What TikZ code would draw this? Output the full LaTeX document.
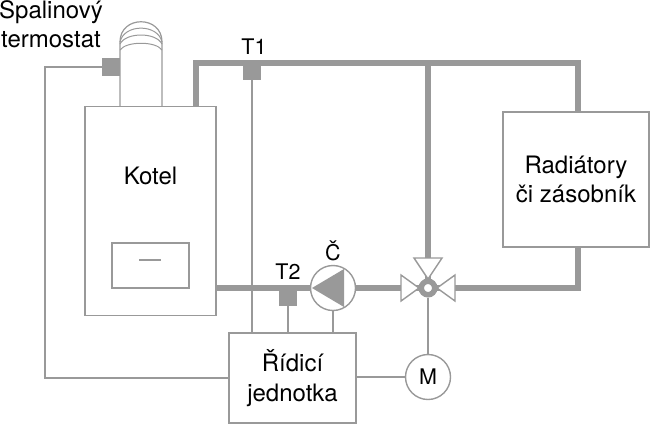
\documentclass[tikz,border=0pt]{standalone}
\usepackage{fontspec}
\setmainfont{TeX Gyre Heros}
\usetikzlibrary{calc}
\definecolor{pipegray}{gray}{0.6}
\newcommand{\bigtext}{\fontsize{24}{29.5}\selectfont}
\tikzset{
  wire/.style={draw=pipegray,line width=1.2pt},
  pipe/.style={draw=pipegray,line width=6pt},
  unitbox/.style={draw=pipegray,line width=1.6pt,fill=white,inner sep=0pt,align=center,font=\bigtext},
  sensorbox/.style={fill=pipegray,minimum size=18pt,inner sep=0pt},
  roundbox/.style={circle,draw=pipegray,line width=1.4pt,fill=white,inner sep=0pt,minimum size=45pt},
  valvetip/.style={draw=pipegray,line width=1.4pt,fill=white,line join=miter},
  caption/.style={inner sep=0pt,font=\bigtext,align=center},
  smallcaption/.style={inner sep=0pt,font=\fontsize{21.5}{24}\selectfont}
}
\begin{document}
\begin{tikzpicture}[x=1pt,y=-1pt]
          \useasboundingbox (0,0) rectangle (650,424);
          % pipes
          \coordinate (kotelout) at (196,107);
          \coordinate (corner) at (196,63);
          \coordinate (top) at (428,63);
          \coordinate (topright) at (578,63);
          \coordinate (radiatorin) at (578,112);
          \coordinate (radiatorout) at (578,247);
          \coordinate (lowright) at (578,288);
          \coordinate (kotelret) at (216,288);
          \coordinate (valve) at (428,288);
          \draw[pipe] (kotelout) -- (corner) -- (topright) -- (radiatorin);
          \draw[pipe] (top) -- (valve);
          \draw[pipe] (radiatorout) -- (lowright) -- (valve);
          \draw[pipe] (kotelret) -- (valve);
          % flue
          \coordinate (flueleft) at (120,107);
          \coordinate (flueright) at (162,107);
          \draw[wire] (flueleft) -- (120,42) .. controls (120,15) and (162,15) .. (162,42) -- (flueright);
          \draw[wire,line width=1pt] (120,42) .. controls (124,23.5) and (158,23.5) .. (162,42);
          \draw[wire,line width=1pt] (120,44) .. controls (126,32) and (156,32) .. (162,44);
          \draw[wire,line width=1pt] (120,50) .. controls (126,41) and (156,41) .. (162,50);
          % units
          \node[unitbox,minimum width=131pt,minimum height=209pt] (kotel) at (150.5,211) {};
          \node[caption] (kotellabel) at (150.5,176) {Kotel};
          \node[unitbox,minimum width=77pt,minimum height=45pt] (panel) at (150.5,265.5) {};
          \draw[wire] (139,260) -- (161,260);
          \node[unitbox,minimum width=146pt,minimum height=135pt] (radiator) at (576,179.5) {Radiátory\\či zásobník};
          \node[unitbox,minimum width=127pt,minimum height=90pt] (control) at (292.5,378) {Řídicí\\jednotka};
          % sensors
          \node[sensorbox] (fluesensor) at (111,67) {};
          \node[sensorbox] (t1) at (252,71) {};
          \node[sensorbox] (t2) at (288,297) {};
          \node[caption] (fluelabel) at (51,24) {Spalinový\\termostat};
          \node[smallcaption] (t1label) at (254,47) {T1};
          \node[smallcaption] (t2label) at (288,272) {T2};
          \node[smallcaption] (pumplabel) at (333,251) {Č};
          % pump, motor
          \node[roundbox] (pump) at (333,288) {};
          \fill[pipegray] (312,288) -- (344,269) -- (344,307) -- cycle;
          \node[roundbox,font=\fontsize{21.5}{24}\selectfont] (motor) at (428,377) {M};
          % valve
          \draw[valvetip] (414,258) -- (442,258) -- (428,279) -- cycle;
          \draw[valvetip] (401,275) -- (401,301) -- (419,288) -- cycle;
          \draw[valvetip] (455,275) -- (455,301) -- (437,288) -- cycle;
          \node[circle,draw=pipegray,line width=5.5pt,fill=white,minimum size=13.5pt,inner sep=0pt] (valvehub) at (valve) {};
          % wiring
          \draw[wire] (t1) -- (t1 |- control.north);
          \draw[wire] (t2) -- (t2 |- control.north);
          \draw[wire] (pump) ++(0,22.5) -- (pump |- control.north);
          \draw[wire] (valvehub) -- (motor);
          \draw[wire] (control.east |- motor) -- (motor);
          \draw[wire] (fluesensor) -- (45,67) -- (45,378) -- (control.west);
\end{tikzpicture}
\end{document}
